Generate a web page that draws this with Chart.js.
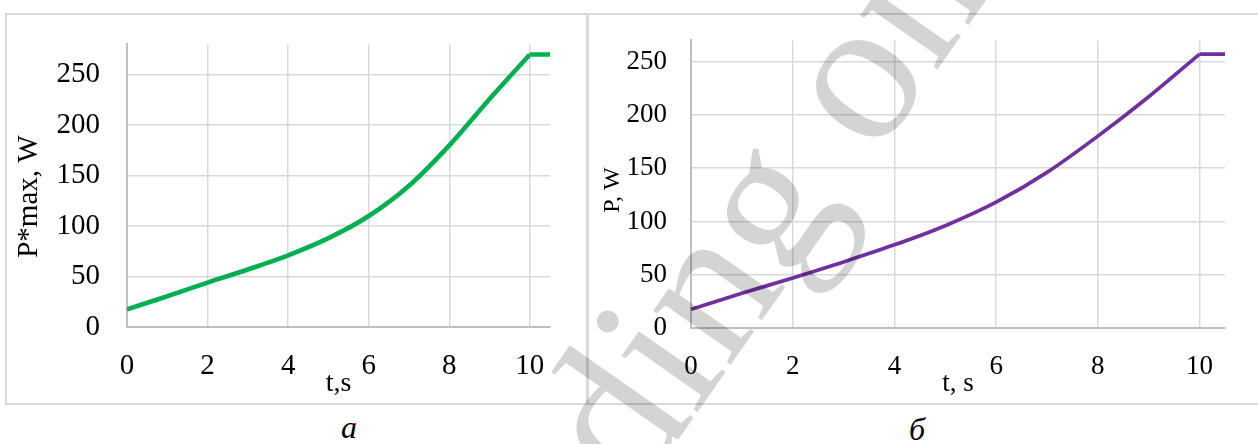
<!DOCTYPE html>
<html>
<head>
<meta charset="utf-8">
<script src="https://cdn.jsdelivr.net/npm/chart.js@4.4.0/dist/chart.umd.min.js"></script>
<style>
  body { margin: 0; width: 1258px; height: 444px; overflow: hidden; background: #fff; position: relative; }
  .box { position: absolute; border: 2px solid #d9d9d9; box-sizing: border-box; }
  canvas { position: absolute; }
  svg { position: absolute; left: 0; top: 0; pointer-events: none; }
</style>
</head>
<body>
<svg width="1258" height="444">
  <text x="349" y="438" text-anchor="middle" font-family="Liberation Serif" font-style="italic" font-size="32" fill="#000">а</text>
  <text x="917" y="440" text-anchor="middle" font-family="Liberation Serif" font-style="italic" font-size="32" fill="#000">б</text>
</svg>
<div class="box" style="left:5px;top:13px;width:583px;height:392px"></div>
<div class="box" style="left:587px;top:13px;width:690px;height:392px"></div>
<canvas id="chartA" width="587" height="404" style="left:0;top:0"></canvas>
<canvas id="chartB" width="670" height="404" style="left:588px;top:0"></canvas>
<!-- watermark over everything, semi transparent -->
<svg width="1258" height="444">
  <text x="636" y="500" transform="rotate(-55 636 500)" font-family="Liberation Serif" font-size="206" fill="#000" fill-opacity="0.17">ding on</text>
</svg>
<script>
// t, s
const tSec = [0, 1, 2, 3, 4, 5, 6, 7, 8, 9, 10];
// P*max, W (а)
const pMax = [17.5, 30.5, 44, 57, 71, 88, 110, 140, 180, 226, 270];
// P, W (б)
const pPow = [17.5, 32.5, 47, 62, 78, 96, 118, 146, 180, 217, 257];
// flat part after 10 s
const tFlat = [10, 10.5];
const pMaxFlat = [270, 270];
const pPowFlat = [257, 257];

const xTicks = [0, 2, 4, 6, 8, 10];
const yTicks = [0, 50, 100, 150, 200, 250];

const FONT = "'Liberation Serif', 'Times New Roman', serif";

function pts(xs, ys) {
  return xs.map((x, i) => ({ x: x, y: ys[i] }));
}

function makeChart(id, cfg) {
  const ctx = document.getElementById(id).getContext("2d");
  return new Chart(ctx, {
    type: "line",
    data: {
      datasets: [
        {
          data: pts(tSec, cfg.values),
          borderColor: cfg.color,
          borderWidth: cfg.lineWidth,
          pointRadius: 0,
          cubicInterpolationMode: "monotone",
          fill: false,
        },
        {
          data: pts(tFlat, cfg.flat),
          borderColor: cfg.color,
          borderWidth: cfg.lineWidth,
          pointRadius: 0,
          tension: 0,
          fill: false,
        },
      ],
    },
    options: {
      responsive: false,
      animation: false,
      devicePixelRatio: 1,
      layout: { padding: { top: cfg.top, right: cfg.right, left: 0, bottom: 0 } },
      plugins: { legend: { display: false }, tooltip: { enabled: false } },
      scales: {
        x: {
          type: "linear",
          min: 0,
          max: 10.5,
          afterBuildTicks: (s) => { s.ticks = xTicks.map((v) => ({ value: v })); },
          afterFit: (s) => { s.height = cfg.xAxisH; },
          ticks: { font: { family: FONT, size: cfg.tickSize }, color: "#000", padding: cfg.xPad, maxRotation: 0 },
          grid: { color: "#d9d9d9", lineWidth: 1.5, drawTicks: false },
          border: { color: "#bfbfbf", width: 2 },
          title: {
            display: true,
            text: cfg.xTitle,
            font: { family: FONT, size: cfg.xTitleSize },
            color: "#000",
            padding: { top: 0, bottom: 4 },
          },
        },
        y: {
          min: 0,
          max: cfg.yMax,
          afterBuildTicks: (s) => { s.ticks = yTicks.map((v) => ({ value: v })); },
          afterFit: (s) => { s.width = cfg.yAxisW; },
          ticks: { font: { family: FONT, size: cfg.tickSize }, color: "#000", padding: cfg.yPad },
          grid: { color: "#d9d9d9", lineWidth: 1.5, drawTicks: false },
          border: { color: "#bfbfbf", width: 2 },
          title: {
            display: true,
            text: cfg.yTitle,
            font: { family: FONT, size: cfg.yTitleSize },
            color: "#000",
            padding: { top: cfg.yTitlePad, bottom: 0 },
          },
        },
      },
    },
  });
}

makeChart("chartA", {
  values: pMax, flat: pMaxFlat, color: "#00b050", lineWidth: 4.6,
  yMax: 280, top: 37, right: 37, yAxisW: 127, xAxisH: 77,
  tickSize: 29, xPad: 22, yPad: 27,
  xTitle: "t,s", xTitleSize: 28,
  yTitle: "P*max, W   ", yTitleSize: 29, yTitlePad: 12,
});

makeChart("chartB", {
  values: pPow, flat: pPowFlat, color: "#7030a0", lineWidth: 3.7,
  yMax: 270, top: 29, right: 33, yAxisW: 103, xAxisH: 76,
  tickSize: 27, xPad: 23, yPad: 24,
  xTitle: "t, s", xTitleSize: 27,
  yTitle: "P, W  ", yTitleSize: 24, yTitlePad: 10,
});
</script>
</body>
</html>
